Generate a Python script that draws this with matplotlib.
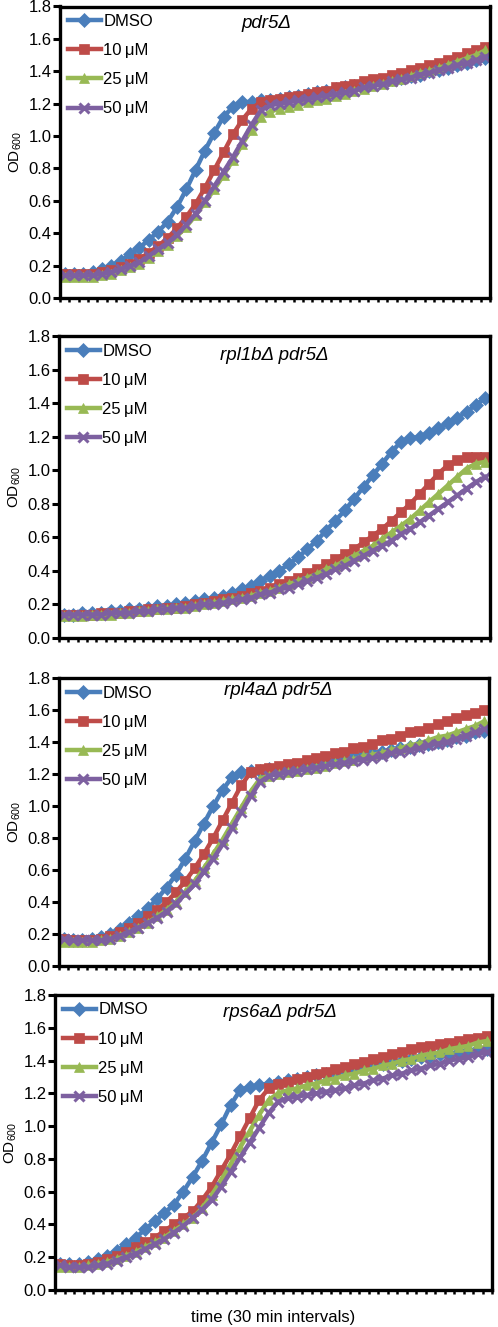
import matplotlib
matplotlib.use("Agg")
import matplotlib.pyplot as plt

plt.rcParams['font.family'] = ['Liberation Sans', 'DejaVu Sans']

labels = ["DMSO", "10\u2009\u03bcM", "25\u2009\u03bcM", "50\u2009\u03bcM"]
colors = ["#4A7EBB", "#BE4B48", "#98B954", "#7D60A0"]
markers = ["D", "s", "^", "x"]
titles = ["pdr5\u0394", "rpl1b\u0394 pdr5\u0394", "rpl4a\u0394 pdr5\u0394", "rps6a\u0394 pdr5\u0394"]
yticks = [0.0, 0.2, 0.4, 0.6, 0.8, 1.0, 1.2, 1.4, 1.6, 1.8]

# pdr5
blue1 = [0.15, 0.15, 0.15, 0.16, 0.18, 0.20, 0.23, 0.27, 0.31, 0.36, 0.41, 0.47, 0.56, 0.67, 0.79, 0.91,
         1.02, 1.12, 1.18, 1.21, 1.21, 1.22, 1.22, 1.23, 1.24, 1.25, 1.26, 1.27, 1.28, 1.29, 1.30, 1.31,
         1.32, 1.33, 1.34, 1.35, 1.36, 1.37, 1.38, 1.40, 1.41, 1.42, 1.44, 1.45, 1.47, 1.48]
red1 = [0.15, 0.15, 0.15, 0.15, 0.16, 0.17, 0.19, 0.21, 0.24, 0.28, 0.32, 0.37, 0.43, 0.50, 0.58, 0.68,
        0.79, 0.90, 1.01, 1.10, 1.17, 1.21, 1.22, 1.23, 1.24, 1.25, 1.26, 1.27, 1.28, 1.30, 1.31, 1.32,
        1.34, 1.35, 1.36, 1.38, 1.39, 1.41, 1.42, 1.44, 1.45, 1.47, 1.49, 1.51, 1.53, 1.55]
green1 = [0.13, 0.13, 0.13, 0.13, 0.14, 0.15, 0.17, 0.19, 0.21, 0.25, 0.29, 0.33, 0.38, 0.44, 0.51, 0.59,
          0.67, 0.76, 0.85, 0.95, 1.04, 1.12, 1.15, 1.17, 1.18, 1.19, 1.21, 1.22, 1.23, 1.25, 1.26, 1.28,
          1.29, 1.31, 1.32, 1.34, 1.35, 1.37, 1.39, 1.40, 1.42, 1.44, 1.46, 1.48, 1.50, 1.53]
purple1 = [0.14, 0.14, 0.14, 0.14, 0.15, 0.16, 0.18, 0.20, 0.22, 0.26, 0.30, 0.34, 0.39, 0.45, 0.52, 0.60,
           0.69, 0.78, 0.87, 0.97, 1.07, 1.16, 1.19, 1.20, 1.21, 1.22, 1.23, 1.24, 1.25, 1.26, 1.27, 1.28,
           1.30, 1.31, 1.32, 1.34, 1.35, 1.36, 1.38, 1.39, 1.41, 1.42, 1.44, 1.45, 1.47, 1.49]

# rpl1b pdr5
blue2 = [0.14, 0.14, 0.15, 0.15, 0.15, 0.16, 0.16, 0.17, 0.17, 0.18, 0.19, 0.19, 0.20, 0.21, 0.22, 0.23,
         0.24, 0.25, 0.27, 0.29, 0.31, 0.34, 0.37, 0.40, 0.44, 0.48, 0.53, 0.58, 0.64, 0.70, 0.76, 0.83,
         0.90, 0.97, 1.04, 1.11, 1.17, 1.19, 1.20, 1.22, 1.25, 1.28, 1.31, 1.35, 1.39, 1.43]
red2 = [0.14, 0.14, 0.14, 0.14, 0.15, 0.15, 0.15, 0.16, 0.16, 0.17, 0.17, 0.18, 0.18, 0.19, 0.20, 0.21,
        0.22, 0.23, 0.24, 0.25, 0.27, 0.28, 0.30, 0.32, 0.34, 0.36, 0.39, 0.41, 0.44, 0.47, 0.50, 0.53,
        0.57, 0.61, 0.65, 0.70, 0.75, 0.80, 0.86, 0.92, 0.98, 1.03, 1.06, 1.08, 1.08, 1.08]
green2 = [0.13, 0.13, 0.13, 0.14, 0.14, 0.14, 0.15, 0.15, 0.16, 0.16, 0.17, 0.17, 0.18, 0.18, 0.19, 0.20,
          0.21, 0.22, 0.23, 0.24, 0.25, 0.27, 0.28, 0.30, 0.32, 0.34, 0.36, 0.38, 0.41, 0.43, 0.46, 0.49,
          0.52, 0.55, 0.59, 0.63, 0.67, 0.71, 0.76, 0.81, 0.86, 0.91, 0.96, 1.01, 1.04, 1.05]
purple2 = [0.14, 0.14, 0.14, 0.14, 0.14, 0.15, 0.15, 0.15, 0.16, 0.16, 0.17, 0.17, 0.18, 0.18, 0.19, 0.20,
           0.20, 0.21, 0.22, 0.23, 0.24, 0.26, 0.27, 0.29, 0.30, 0.32, 0.34, 0.36, 0.38, 0.41, 0.43, 0.46,
           0.49, 0.52, 0.55, 0.58, 0.62, 0.65, 0.69, 0.73, 0.77, 0.81, 0.85, 0.89, 0.93, 0.96]

# rpl4a pdr5
blue3 = [0.17, 0.16, 0.16, 0.17, 0.18, 0.20, 0.23, 0.27, 0.31, 0.36, 0.42, 0.49, 0.57, 0.67, 0.78, 0.89,
         1.00, 1.10, 1.18, 1.21, 1.22, 1.22, 1.23, 1.23, 1.24, 1.25, 1.26, 1.27, 1.28, 1.29, 1.30, 1.31,
         1.32, 1.33, 1.34, 1.35, 1.36, 1.37, 1.38, 1.39, 1.40, 1.41, 1.43, 1.44, 1.46, 1.47]
red3 = [0.17, 0.16, 0.16, 0.16, 0.17, 0.19, 0.21, 0.24, 0.27, 0.31, 0.35, 0.40, 0.46, 0.53, 0.61, 0.70,
        0.80, 0.91, 1.02, 1.13, 1.21, 1.23, 1.24, 1.25, 1.26, 1.27, 1.29, 1.30, 1.31, 1.33, 1.34, 1.36,
        1.37, 1.39, 1.41, 1.42, 1.44, 1.46, 1.47, 1.49, 1.51, 1.53, 1.55, 1.57, 1.58, 1.60]
green3 = [0.15, 0.15, 0.15, 0.15, 0.16, 0.17, 0.19, 0.21, 0.24, 0.27, 0.31, 0.35, 0.40, 0.46, 0.53, 0.61,
          0.70, 0.79, 0.89, 0.99, 1.09, 1.17, 1.19, 1.20, 1.21, 1.22, 1.23, 1.24, 1.25, 1.27, 1.28, 1.29,
          1.31, 1.32, 1.33, 1.35, 1.36, 1.38, 1.39, 1.41, 1.43, 1.44, 1.46, 1.48, 1.50, 1.53]
purple3 = [0.17, 0.16, 0.16, 0.16, 0.16, 0.17, 0.19, 0.21, 0.24, 0.27, 0.30, 0.34, 0.39, 0.45, 0.51, 0.59,
           0.67, 0.76, 0.86, 0.96, 1.06, 1.15, 1.19, 1.20, 1.21, 1.22, 1.23, 1.24, 1.25, 1.26, 1.27, 1.28,
           1.29, 1.30, 1.31, 1.33, 1.34, 1.35, 1.36, 1.38, 1.39, 1.40, 1.42, 1.44, 1.46, 1.48]

# rps6a pdr5
blue4 = [0.16, 0.16, 0.16, 0.17, 0.19, 0.21, 0.24, 0.28, 0.32, 0.37, 0.42, 0.47, 0.52, 0.60, 0.69, 0.79,
         0.90, 1.01, 1.13, 1.22, 1.24, 1.25, 1.26, 1.27, 1.28, 1.29, 1.30, 1.31, 1.32, 1.33, 1.34, 1.35,
         1.36, 1.37, 1.38, 1.39, 1.40, 1.41, 1.42, 1.43, 1.44, 1.44, 1.45, 1.46, 1.47, 1.47]
red4 = [0.16, 0.15, 0.15, 0.16, 0.17, 0.19, 0.21, 0.23, 0.26, 0.29, 0.32, 0.36, 0.40, 0.44, 0.48, 0.55,
        0.63, 0.73, 0.83, 0.94, 1.05, 1.16, 1.23, 1.26, 1.27, 1.29, 1.30, 1.32, 1.33, 1.35, 1.36, 1.38,
        1.39, 1.41, 1.42, 1.44, 1.45, 1.47, 1.48, 1.49, 1.50, 1.51, 1.52, 1.53, 1.54, 1.55]
green4 = [0.14, 0.14, 0.14, 0.15, 0.16, 0.17, 0.19, 0.21, 0.23, 0.26, 0.29, 0.32, 0.36, 0.40, 0.44, 0.50,
          0.58, 0.67, 0.77, 0.87, 0.97, 1.07, 1.16, 1.20, 1.22, 1.23, 1.25, 1.26, 1.28, 1.29, 1.31, 1.32,
          1.34, 1.35, 1.37, 1.38, 1.40, 1.41, 1.43, 1.44, 1.45, 1.47, 1.48, 1.49, 1.51, 1.52]
purple4 = [0.15, 0.14, 0.14, 0.14, 0.15, 0.16, 0.18, 0.20, 0.22, 0.25, 0.28, 0.31, 0.35, 0.39, 0.44, 0.49,
           0.55, 0.63, 0.72, 0.81, 0.90, 0.99, 1.08, 1.15, 1.17, 1.18, 1.19, 1.20, 1.21, 1.22, 1.23, 1.25,
           1.26, 1.28, 1.29, 1.31, 1.32, 1.34, 1.35, 1.37, 1.38, 1.40, 1.41, 1.42, 1.44, 1.45]

panels = [
    [blue1, red1, green1, purple1],
    [blue2, red2, green2, purple2],
    [blue3, red3, green3, purple3],
    [blue4, red4, green4, purple4],
]

W, H = 498, 1327
# axes boxes in pixels: left, right, top, bottom
boxes = [(60, 490, 6.5, 298), (59, 490, 336, 638), (59, 489, 678, 966), (55, 492, 995, 1290)]
title_pos = [(0.48, 0.94), (0.5, 0.935), (0.51, 0.958), (0.515, 0.942)]

fig = plt.figure(figsize=(W / 100, H / 100), dpi=100)

for k, (series, box) in enumerate(zip(panels, boxes)):
    l, r, t, b = box
    ax = fig.add_axes([l / W, 1 - b / H, (r - l) / W, (b - t) / H])
    n = len(series[0])
    x = list(range(n))
    for vals, c, m, lab in zip(series, colors, markers, labels):
        ax.plot(x, vals, color=c, lw=3.2, marker=m, ms=7, mew=2.2 if m == "x" else 0.5,
                mec=c, mfc=c, label=lab)
    ax.set_xlim(-0.5, n - 0.5)
    ax.set_ylim(0, 1.8)
    ax.set_yticks(yticks)
    ax.set_yticklabels([f"{v:.1f}" for v in yticks], fontsize=12)
    ax.set_xticks([i - 0.5 for i in range(n + 1)])
    ax.set_xticklabels([])
    ax.tick_params(axis="x", direction="out", length=3, width=1.8, color="black")
    ax.tick_params(axis="y", direction="out", length=5, width=2.2, pad=1)
    for s in ax.spines.values():
        s.set_linewidth(2.4)
    ax.set_ylabel(r"OD$_{\mathregular{600}}$", fontsize=11, labelpad=3)
    ax.text(title_pos[k][0], title_pos[k][1], titles[k], transform=ax.transAxes,
            fontsize=13.5, style="italic", ha="center", va="center")
    ax.legend(loc="upper left", frameon=False, fontsize=12, handlelength=2.0,
              handletextpad=0.15, labelspacing=0.85, borderaxespad=0.2, borderpad=0.25)
    if k == 3:
        ax.set_xlabel("time (30 min intervals)", fontsize=12, labelpad=8)

fig.savefig("out.png", dpi=100)
